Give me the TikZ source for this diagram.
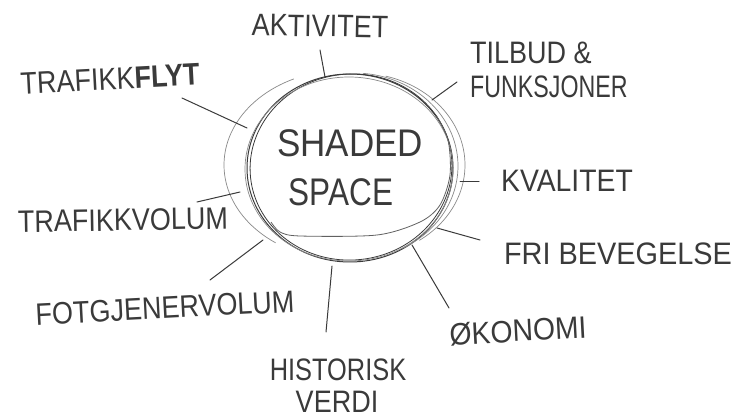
\documentclass[tikz,border=0pt]{standalone}
\usepackage{fontspec}
\setmainfont{Liberation Sans}
\usepackage{graphicx}
\definecolor{ink}{HTML}{3A3A3A}
\newcommand\tallt[2][1]{\scalebox{#1}[1.15]{#2}}
\begin{document}
\begin{tikzpicture}[x=1pt,y=-1pt,
  lbl/.style={text=ink, inner sep=0pt, font=\fontsize{27}{34}\selectfont, align=center},
  big/.style={text=ink, inner sep=0pt, font=\fontsize{35}{38}\selectfont},
  spoke/.style={draw=ink, line width=1pt, line cap=round},
  rim/.style={draw=ink, line width=1pt},
  faint/.style={draw=ink!60, line width=0.7pt}]
\useasboundingbox[fill=white] (0,0) rectangle (733,419);

% circle strokes
\draw[rim] (350,168) ellipse [x radius=103, y radius=94];
\draw[rim, line width=0.8pt, rotate around={6:(351,167)}] (351,167) ellipse [x radius=101, y radius=93];
\draw[faint] (349,169) ellipse [x radius=104, y radius=92];
\draw[faint] plot[smooth, domain=125:245, samples=40] ({345+121*cos(\x)}, {165+95*sin(\x)});
\draw[faint] plot[smooth, domain=-75:55, samples=40] ({358+107*cos(\x)}, {165+92*sin(\x)});
\draw[faint] plot[smooth, domain=-85:62, samples=40] ({354+104*cos(\x)}, {166+93*sin(\x)});
\draw[rim, draw=ink!80, line width=0.8pt] plot[smooth] coordinates {(271,222) (280,232) (300,236) (377,235) (420,222) (440,205) (450,175) (448,140) (436,115)};

% centre text
\node[big] (shaded) at (350,143) {\scalebox{1}[1.1]{SHADED}};
\node[big] (space) at (341,192) {\scalebox{0.9}[1.1]{SPACE}};

% labels
\node[lbl, rotate=-1] (akt) at (320,26) {\tallt{AKTIVITET}};
\node[lbl, rotate=3] (flyt) at (110,79) {\tallt{TRAFIKK\textbf{FLYT}}};
\node[lbl, anchor=west, align=left] (tilbud) at (470,70) {\tallt{TILBUD \&}\\\tallt[0.86]{FUNKSJONER}};
\node[lbl] (kval) at (567,181) {\tallt[1.05]{KVALITET}};
\node[lbl] (fri) at (618,254) {\tallt[1.07]{FRI BEVEGELSE}};
\node[lbl, rotate=3] (oko) at (518,331) {\tallt[1.05]{ØKONOMI}};
\node[lbl] (hist) at (338,370) {\tallt[0.94]{HISTORISK}};
\node[lbl] (verdi) at (337,402) {\tallt{VERDI}};
\node[lbl, rotate=1] (tvol) at (123,220) {\tallt{TRAFIKKVOLUM}};
\node[lbl, rotate=3] (fot) at (165,308) {\tallt{FOTGJENERVOLUM}};

% spokes
\coordinate (ak1) at (320,50);  \coordinate (ak2) at (325,77);
\coordinate (fl1) at (182,98);  \coordinate (fl2) at (247,128);
\coordinate (ti1) at (457,82);  \coordinate (ti2) at (432,100);
\coordinate (kv1) at (479,182); \coordinate (kv2) at (460,182);
\coordinate (fr1) at (480,240); \coordinate (fr2) at (437,228);
\coordinate (ok1) at (449,308); \coordinate (ok2) at (412,245);
\coordinate (hi1) at (326,332); \coordinate (hi2) at (332,266);
\coordinate (fo1) at (210,280); \coordinate (fo2) at (263,240);
\coordinate (tv1) at (197,202); \coordinate (tv2) at (240,192);
\draw[spoke] (ak1) -- (ak2);
\draw[spoke] (fl1) -- (fl2);
\draw[spoke] (ti1) -- (ti2);
\draw[spoke] (kv1) -- (kv2);
\draw[spoke] (fr1) -- (fr2);
\draw[spoke] (ok1) -- (ok2);
\draw[spoke] (hi1) -- (hi2);
\draw[spoke] (fo1) -- (fo2);
\draw[spoke] (tv1) -- (tv2);
\end{tikzpicture}
\end{document}
